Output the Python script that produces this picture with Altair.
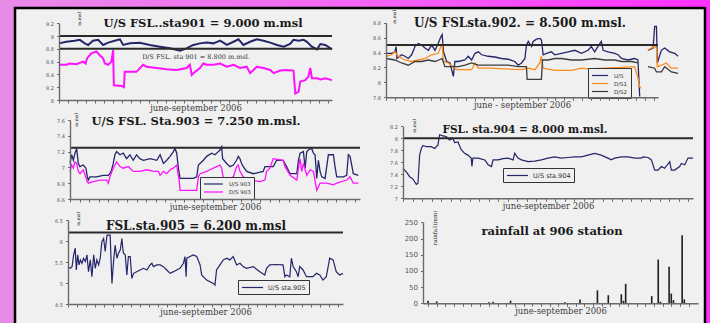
import altair as alt
import pandas as pd

W, H = 710, 323
DAYS = 122                      # 1 June .. 30 September 2006
TICKS = list(range(0, 123, 4))
SERIF = "DejaVu Serif"
SANS = "DejaVu Sans"
NAVY = "#25256a"
MAGENTA = "#ff10ff"
ORANGE = "#ff8c1a"
DARK = "#3c3c3c"
RULE = "#2a2a2a"
AXIS = "#6a6a6a"

# ---------------- sta.901 ----------------
us901_day = [0, 3.3, 7, 9.3, 11.5, 13, 15.2, 17.5, 19.7, 22, 24.9, 27.2, 28.7, 31.7, 36.1, 40.6,
             45.1, 49.6, 54.1, 57, 60, 63, 66, 69, 72, 75, 78, 80.2, 82.4, 85.4, 88.4, 91.4,
             94.4, 97.4, 100.4, 103.3, 104.8, 107.1, 109.3, 110.8, 113, 115.3, 116.8, 119, 122]
us901_lvl = [8.885, 8.91, 8.927, 8.94, 8.885, 8.86, 8.927, 8.94, 8.86, 8.896, 8.927, 8.948, 8.86,
             8.885, 8.896, 8.86, 8.833, 8.807, 8.77, 8.807, 8.86, 8.885, 8.90, 8.885, 8.927, 8.86,
             8.91, 8.948, 8.86, 8.91, 8.948, 8.927, 8.896, 8.86, 8.833, 8.875, 8.94, 8.927, 8.94,
             8.91, 8.833, 8.79, 8.875, 8.86, 8.79]
ds901_day = [0, 3.3, 4.8, 7.8, 10.8, 11.9, 12.5, 14.5, 16.7, 18.2, 19.7, 20.5, 22, 23.4, 24.2,
             24.5, 27.9, 29, 29.4, 34.6, 37.6, 39.1, 43.6, 48.1, 52.6, 57, 58.5, 59.3, 60.8, 63,
             64.5, 66, 69, 72, 75, 78, 80.9, 83.9, 85.4, 86.9, 88.4, 91.4, 94.4, 95.9, 98.9,
             101.8, 104.8, 105.6, 107.1, 107.8, 110.1, 111.5, 112.3, 113, 115.3, 116.8, 119, 122]
ds901_lvl = [8.55, 8.55, 8.57, 8.56, 8.60, 8.57, 8.65, 8.73, 8.76, 8.70, 8.65, 8.57, 8.55, 8.60,
             8.78, 8.23, 8.22, 8.20, 8.44, 8.44, 8.55, 8.52, 8.50, 8.48, 8.47, 8.50, 8.55, 8.39,
             8.44, 8.50, 8.57, 8.55, 8.55, 8.57, 8.52, 8.55, 8.50, 8.52, 8.42, 8.47, 8.52, 8.50,
             8.47, 8.42, 8.46, 8.47, 8.46, 8.10, 8.13, 8.29, 8.31, 8.37, 8.50, 8.34, 8.34, 8.32,
             8.34, 8.31]

# ---------------- sta.902 ----------------
us902_day = [0, 2.5, 4, 4.5, 4.9, 7, 8.5, 10, 11.5, 13, 14.5, 16, 17.5, 19, 20.5, 22, 23.4, 24.6,
             25.2, 25.8, 27.2, 28.7, 30.2, 30.9, 32.4, 35.4, 36.9, 38.4, 39.9, 41.4, 42.9, 45.8,
             48.8, 51.8, 54.8, 57.8, 59.3, 60.8, 62.3, 63, 63.8, 65.3, 66, 67.5, 69, 69.7, 70.5,
             72, 74.2, 75.7, 78.7, 81.7, 84.7, 87.7, 90.6, 92.1, 93.6, 95.9, 96.6, 97.4, 99.6,
             102.6, 104.1, 105.6, 108.6, 111.5, 113, 113.8, 117.5, 119.8, 120.5, 121.3, 121.7,
             123.5, 125, 127.2, 129.5, 131]
us902_lvl = [8.39, 8.39, 8.41, 8.48, 8.32, 8.37, 8.35, 8.32, 8.37, 8.48, 8.52, 8.50, 8.46, 8.43,
             8.50, 8.43, 8.52, 8.61, 8.64, 8.41, 8.28, 8.26, 8.08, 8.28, 8.28, 8.30, 8.35, 8.30,
             8.39, 8.41, 8.37, 8.35, 8.34, 8.32, 8.31, 8.28, 8.23, 8.26, 8.32, 8.50, 8.55, 8.48,
             8.55, 8.58, 8.59, 8.57, 8.37, 8.39, 8.41, 8.37, 8.39, 8.41, 8.43, 8.39, 8.43, 8.48,
             8.41, 8.52, 8.55, 8.43, 8.41, 8.39, 8.37, 8.32, 8.30, 8.32, 8.30, 7.81, 8.43, 8.46,
             8.75, 8.75, 8.26, 8.43, 8.46, 8.41, 8.39, 8.35]
ds1902_day = [0, 2.5, 4, 5.5, 8.5, 11.5, 14.5, 17.5, 20.5, 23.4, 25.2, 25.7, 27.9, 30.2, 31.7,
              38.4, 39.9, 41.4, 45.8, 53.3, 60.8, 63.8, 66.8, 69, 69.7, 70.5, 75.7, 83.2, 87.7,
              90.6, 98.1, 105.6, 111.5, 113, 113.8, 114.5, 117.5, 119, 120.5, 121.3, 121.7,
              123.5, 125.7, 128, 131]
ds1902_lvl = [8.35, 8.37, 8.41, 8.35, 8.30, 8.28, 8.30, 8.32, 8.37, 8.39, 8.52, 8.28, 8.26, 8.21,
              8.17, 8.17, 8.26, 8.19, 8.19, 8.18, 8.17, 8.19, 8.17, 8.26, 8.35, 8.19, 8.16, 8.16,
              8.19, 8.18, 8.19, 8.20, 8.21, 8.06, 7.94, 7.92, 8.43, 8.46, 8.48, 8.46, 8.21, 8.23,
              8.26, 8.19, 8.19]
ds2902_day = [0, 4, 7, 10, 13, 16, 19, 22, 25.2, 26.4, 29.4, 32.4, 35.4, 38.4, 41.4, 45.8, 50.3,
              54.8, 59.3, 63, 63.3, 69.7, 70.2, 72.7, 75.7, 78.7, 83.2, 87.7, 93.6, 98.1, 102.6,
              105.6, 110.1, 113, 117.5, 120.5, 121.3, 123.5, 125, 128, 131]
ds2902_lvl = [8.32, 8.30, 8.26, 8.23, 8.28, 8.28, 8.30, 8.28, 8.32, 8.21, 8.21, 8.21, 8.23, 8.26,
              8.23, 8.23, 8.23, 8.23, 8.21, 8.21, 8.04, 8.04, 8.30, 8.30, 8.32, 8.32, 8.30, 8.30,
              8.32, 8.30, 8.30, 8.28, 8.28, 8.26, 8.21, 8.19, 8.14, 8.14, 8.21, 8.14, 8.12]
GAP_902 = 115   # no readings between day 115 and day 117

# ---------------- sta.903 ----------------
us903_day = [0, 0.7, 1.4, 2.1, 2.8, 3.5, 4.2, 5.6, 6.7, 7.3, 7.7, 8.4, 11.2, 14, 16.1, 16.8, 17.5,
             18.2, 18.9, 19.6, 21, 22.4, 23.8, 25.2, 26.6, 28, 29.4, 30.9, 33.7, 36.5, 37.9, 39.3,
             40.7, 42.1, 43.5, 44.2, 44.9, 45.6, 46.3, 49.1, 51.9, 53.3, 54, 54.7, 56.1, 57.5,
             59.6, 61, 62.4, 63.1, 63.8, 64.2, 65.9, 67.3, 68.7, 70.1, 70.8, 71.5, 72.2, 72.9,
             74.3, 77.1, 81.3, 82, 85.5, 86.9, 89.7, 91.1, 92.6, 95.4, 96.1, 96.8, 98.2, 98.9,
             99.6, 100.3, 101.7, 102.4, 103.1, 103.8, 104.5, 105.2, 105.9, 107.3, 108.7, 110.8,
             111.5, 112.2, 115, 116.4, 117.1, 117.8, 119.2, 121.3]
us903_lvl = [7.05, 7.16, 7.09, 7.18, 7.24, 7.05, 7.01, 7.03, 6.99, 6.88, 6.84, 6.88, 6.88, 6.90,
             6.90, 6.92, 6.97, 7.05, 7.16, 7.20, 7.16, 7.18, 7.11, 7.16, 7.09, 7.16, 7.11, 7.09,
             7.11, 7.09, 7.16, 7.05, 7.09, 7.14, 7.20, 7.24, 7.18, 6.99, 6.86, 6.86, 6.86, 6.88,
             7.03, 7.05, 7.09, 7.14, 7.18, 7.16, 7.20, 7.22, 7.26, 7.11, 7.05, 7.01, 7.03, 7.09,
             7.14, 7.11, 7.05, 7.01, 6.95, 6.92, 6.95, 7.01, 7.01, 7.09, 7.09, 7.01, 6.92, 6.92,
             7.09, 7.18, 7.20, 6.99, 7.20, 7.22, 7.24, 7.18, 7.16, 6.86, 7.09, 6.95, 6.88, 6.86,
             7.16, 7.16, 7.01, 6.88, 6.88, 6.90, 7.16, 7.14, 6.92, 6.90]
ds903_day = [0, 0.7, 1.4, 2.1, 2.8, 3.5, 4.2, 5.6, 7.3, 7.7, 9.8, 12.6, 15.4, 16.1, 16.8, 18.2,
             19.6, 21, 22.4, 24.5, 26.6, 29.4, 32.3, 35.1, 37.2, 37.9, 39.3, 40.7, 42.1, 43.5,
             44.9, 46, 46.3, 53.3, 54, 54.7, 57.5, 58.9, 60.3, 61.7, 63.1, 63.8, 64.5, 67.3, 68.7,
             70.1, 70.8, 71.5, 72.9, 75.7, 79.9, 82, 82.7, 84.1, 85.5, 89.7, 90.4, 92.6, 95.4,
             96.1, 96.8, 97.5, 98.2, 99.6, 101, 102.4, 103.8, 105.2, 108, 110.8, 112.2, 116.4,
             117.8, 119.2, 121.3]
ds903_lvl = [6.95, 7.03, 6.99, 7.07, 7.05, 6.95, 6.92, 6.97, 6.82, 6.80, 6.82, 6.84, 6.84, 6.80,
             6.88, 6.99, 7.07, 7.01, 6.99, 7.01, 6.95, 6.95, 6.97, 6.95, 6.95, 6.90, 6.95, 6.92,
             6.97, 6.99, 7.03, 6.82, 6.71, 6.71, 6.88, 6.92, 6.95, 6.97, 6.99, 7.01, 7.03, 6.99,
             6.86, 6.86, 6.88, 7.01, 7.03, 6.95, 6.88, 6.84, 6.82, 6.84, 6.95, 6.99, 7.11, 7.09,
             7.01, 6.90, 6.84, 6.99, 7.11, 6.95, 7.05, 6.90, 6.97, 6.95, 6.71, 6.80, 6.80, 6.78,
             6.80, 6.84, 6.88, 6.80, 6.80]

# ---------------- sta.904 ----------------
us904_day = [0, 1.4, 2.8, 4.2, 5.6, 6.3, 7, 7.7, 8.4, 9.8, 11.9, 13.3, 14.7, 15.4, 16.8, 18.2,
             19.6, 21, 21.7, 23.1, 24.5, 25.9, 27.3, 28.7, 29, 29.4, 31.6, 34.4, 35.8, 37.2, 37.9,
             40, 42.1, 44.2, 46.3, 47, 48.4, 49.8, 52.6, 55.4, 58.2, 61, 63.8, 66.6, 69.4, 72.2,
             75, 77.8, 80.6, 83.4, 86.2, 87.6, 89, 91.9, 94.7, 97.5, 100.3, 101, 103.1, 104.5,
             105.9, 107.3, 108.7, 110.1, 112.2, 112.9, 114.3, 116.4, 117.1, 118.5, 119.9, 122]
us904_lvl = [7.50, 7.44, 7.36, 7.32, 7.23, 7.25, 7.72, 7.83, 7.88, 7.86, 7.86, 7.83, 7.89, 8.06,
             8.04, 8.03, 7.97, 8.00, 7.93, 7.94, 7.81, 7.75, 7.72, 7.67, 7.53, 7.67, 7.67, 7.64,
             7.56, 7.53, 7.64, 7.64, 7.66, 7.67, 7.64, 7.75, 7.67, 7.64, 7.61, 7.62, 7.64, 7.67,
             7.69, 7.67, 7.68, 7.69, 7.69, 7.72, 7.75, 7.72, 7.67, 7.64, 7.67, 7.69, 7.69, 7.67,
             7.67, 7.69, 7.68, 7.64, 7.47, 7.47, 7.53, 7.50, 7.61, 7.47, 7.47, 7.53, 7.58, 7.56,
             7.67, 7.67]

# ---------------- sta.905 ----------------
us905_day = [0, 1, 1.8, 2.5, 3.2, 3.7, 4.3, 4.9, 5.5, 6.2, 6.9, 7.7, 8.4, 9.1, 9.9, 10.6, 11.4,
             12.1, 12.8, 13.6, 14.3, 15, 15.8, 16.5, 17.3, 18.7, 19.5, 20.2, 20.9, 21.7, 22.4,
             23.2, 23.9, 24.3, 24.6, 25.4, 26.1, 26.8, 27.6, 28.3, 29.1, 30.5, 32, 33.5, 35, 36.4,
             37.2, 37.9, 39.4, 40.9, 42.3, 43.8, 45.3, 46.8, 48.2, 49.7, 51.2, 51.9, 52.4, 52.7,
             54.1, 55.6, 57.1, 58.3, 58.6, 59.3, 61.5, 64.5, 65.2, 65.9, 67.4, 68.9, 70.4, 71.8,
             73.3, 74.8, 76.3, 77.7, 79.2, 82.2, 85.1, 87.3, 88.1, 89.5, 92.5, 95.4, 96.2, 96.9,
             98.4, 99.1, 99.9, 101.3, 102.1, 102.8, 104.3, 105.8, 107.2, 108.7, 110.2, 111.7,
             113.1, 114.6, 116.1, 117.6, 119, 120.5, 122]
us905_lvl = [5.39, 5.35, 5.39, 5.67, 5.83, 5.31, 5.67, 5.43, 5.55, 5.47, 5.59, 5.51, 5.67, 5.27,
             5.55, 5.15, 5.67, 5.35, 5.55, 5.43, 5.59, 5.98, 6.06, 5.75, 6.14, 6.14, 4.99, 5.51,
             5.90, 5.59, 5.71, 5.79, 6.06, 5.83, 5.71, 5.67, 5.19, 5.63, 5.63, 5.11, 5.23, 5.27,
             5.31, 5.35, 5.31, 5.43, 5.47, 5.39, 5.43, 5.43, 5.39, 5.31, 5.23, 5.27, 5.31, 5.35,
             5.47, 5.63, 5.15, 5.59, 5.63, 5.67, 5.63, 5.47, 5.43, 5.19, 5.07, 4.99, 4.95, 5.31,
             5.43, 5.55, 5.59, 5.55, 5.63, 5.43, 5.47, 5.39, 5.35, 5.39, 5.27, 5.19, 5.35, 5.43,
             5.44, 5.43, 5.15, 5.19, 5.15, 5.59, 5.39, 5.27, 5.15, 5.39, 5.31, 5.15, 5.15, 5.15,
             5.23, 5.19, 5.07, 5.15, 5.59, 5.55, 5.27, 5.19, 5.23]

# ---------------- rainfall at 906 ----------------
rain_day = [0, 4, 28, 30, 38, 63, 70, 78, 83, 89, 90, 91, 103, 106, 107, 111, 112, 113, 117, 118]
rain_mm = [8, 6, 3, 5, 8, 3, 12, 40, 25, 28, 8, 60, 22, 135, 5, 113, 30, 10, 210, 12]

ONE = pd.DataFrame({"k": [0]})


def series_frame(rows, gap=None):
    frames = []
    for name, days, levels in rows:
        df = pd.DataFrame({"day": days, "level": levels})
        df["series"] = name
        df["i"] = range(len(df))
        df["part"] = 0 if gap is None else (df["day"] > gap).astype(int)
        frames.append(df)
    return pd.concat(frames, ignore_index=True)


def x_axis(bottom, title):
    return alt.Axis(orient="bottom", offset=bottom - H, values=TICKS, labels=False,
                    grid=False, domainColor=AXIS, domainWidth=1.6, tickColor=AXIS,
                    tickSize=3, tickWidth=1, title=title, titleFont=SERIF, titleFontSize=8.5,
                    titleFontWeight="normal", titleColor="#404040", titlePadding=0, zindex=1)


def y_axis(left, ticks, size=5):
    return alt.Axis(orient="left", offset=-left, values=ticks, format="~r", grid=False,
                    domainColor=AXIS, domainWidth=1.4, tickColor=AXIS, tickSize=2.5,
                    labelFont=SANS, labelFontSize=size, labelColor="#555", labelPadding=3,
                    title=None, zindex=1)


def legend_at(x, y, size, reach, offset, font):
    # A flat stroke symbol: the row height follows `size`, while `reach` stretches
    # the drawn line to the right of the symbol slot.
    return alt.Legend(orient="none", legendX=x, legendY=y, title=None,
                      symbolType=f"M-1,0H{reach}", symbolSize=size, symbolStrokeWidth=1.2,
                      labelFont=SANS, labelFontSize=font, labelColor="#333",
                      strokeColor="#333", fillColor="#f0f0f0", padding=3, rowPadding=0,
                      labelOffset=offset)


def level_panel(df, names, colors, xr, yr, ydom, yticks, fsl, xtitle, legend, width=1.3):
    """Series lines plus the full-supply-level rules; every layer carries the same
    explicit scales, so the panel needs no shared layer of its own."""
    xs = alt.Scale(domain=[0, DAYS], range=xr, nice=False, zero=False)
    ys = alt.Scale(domain=ydom, range=yr, nice=False, zero=False)
    lines = alt.Chart(df).mark_line(strokeWidth=width).encode(
        x=alt.X("day:Q", scale=xs, axis=x_axis(yr[0], xtitle)),
        y=alt.Y("level:Q", scale=ys, axis=y_axis(xr[0], yticks)),
        color=alt.Color("series:N", scale=alt.Scale(domain=names, range=colors), legend=legend),
        detail="part:N",
        order="i:Q",
    )
    rules = [
        alt.Chart(ONE).mark_rule(color=RULE, strokeWidth=2).encode(
            x=alt.XDatum(0, scale=xs, axis=None), x2=alt.X2Datum(DAYS),
            y=alt.YDatum(v, scale=ys, axis=None))
        for v in fsl
    ]
    return [lines, *rules]


def label(txt, x, y, size, bold=True, angle=0, color="#1a1a1a", font=SERIF):
    return alt.Chart(ONE).mark_text(font=font, fontSize=size,
                                    fontWeight="bold" if bold else "normal", angle=angle,
                                    color=color, align="center", baseline="middle").encode(
        x=alt.value(x), y=alt.value(y), text=alt.value(txt))


# ---- page frame ----
frame_bg = alt.Chart(ONE).mark_rect(
    fill=alt.LinearGradient(gradient="linear", x1=0, x2=1, y1=0, y2=0,
                            stops=[alt.GradientStop(color="#e98be9", offset=0),
                                   alt.GradientStop(color="#f466f4", offset=0.5),
                                   alt.GradientStop(color="#ff30ff", offset=1)])
).encode(x=alt.value(0), x2=alt.value(W), y=alt.value(0), y2=alt.value(H))
frame_box = alt.Chart(ONE).mark_rect(fill="#f0f0f0", stroke="#000", strokeWidth=2.5).encode(
    x=alt.value(15), x2=alt.value(705), y=alt.value(8), y2=alt.value(H + 20))

# ---- panels ----
p1 = level_panel(
    series_frame([("U/S 901", us901_day, us901_lvl), ("D/S 901", ds901_day, ds901_lvl)]),
    ["U/S 901", "D/S 901"], [NAVY, MAGENTA], [59, 332], [100, 23.2], [8, 9.2],
    [8, 8.2, 8.4, 8.6, 8.8, 9, 9.2], [9.0, 8.8], "june-september 2006", None, width=2)

p2 = level_panel(
    series_frame([("U/S", us902_day, us902_lvl), ("D/S1", ds1902_day, ds1902_lvl),
                  ("D/S2", ds2902_day, ds2902_lvl)], gap=GAP_902),
    ["U/S", "D/S1", "D/S2"], [NAVY, ORANGE, DARK], [386, 658], [97.3, 22.7], [7.8, 8.8],
    [7.8, 8, 8.2, 8.4, 8.6, 8.8], [8.5], "june - september 2006",
    legend_at(588, 68, 49, 3.6, 14, 5.5), width=1.3)

p3 = level_panel(
    series_frame([("U/S 903", us903_day, us903_lvl), ("D/S 903", ds903_day, ds903_lvl)]),
    ["U/S 903", "D/S 903"], [NAVY, MAGENTA], [70, 360], [199, 120], [6.6, 7.6],
    [6.6, 6.8, 7, 7.2, 7.4, 7.6], [7.25], "june-september 2006",
    legend_at(200, 177, 36, 5.3, 18, 5.5), width=1.3)

p4 = level_panel(
    series_frame([("U/S sta.904", us904_day, us904_lvl)]),
    ["U/S sta.904"], [NAVY], [403, 693], [198.3, 126.3], [7, 8.2],
    [7, 7.2, 7.4, 7.6, 7.8, 8, 8.2], [8.0], "june-september 2006",
    legend_at(503, 168, 49, 5, 18, 6.5), width=1.2)

p5 = level_panel(
    series_frame([("U/S sta.905", us905_day, us905_lvl)]),
    ["U/S sta.905"], [NAVY], [68, 343], [304, 220], [4.5, 6.5],
    [4.5, 5, 5.5, 6, 6.5], [6.2], "june-september 2006",
    legend_at(238, 280, 49, 5, 18, 6.5), width=1.2)

rain_df = pd.DataFrame({"day": rain_day, "mm": rain_mm})
p6 = alt.Chart(rain_df).mark_bar(size=1.6, color="#1e1e1e").encode(
    x=alt.X("day:Q", scale=alt.Scale(domain=[0, DAYS], range=[423, 698], nice=False, zero=False),
            axis=x_axis(303.3, "june-september 2006")),
    y=alt.Y("mm:Q", scale=alt.Scale(domain=[0, 250], range=[303.3, 222.3], nice=False),
            axis=y_axis(423, [0, 50, 100, 150, 200, 250], size=7)),
)

texts = [
    label("U/S FSL..sta901 = 9.000 m.msl", 203, 24, 11.5),
    label("D/S FSL. sta 901 = 8.800 m.msl.", 196, 57, 6.5, bold=False, color="#333"),
    label("U/S FSLsta.902. = 8.500 m.msl.", 520, 23, 12),
    label("U/S FSL. Sta.903 = 7.250 m.msl.", 196, 122, 11.5),
    label("FSL. sta.904 = 8.000 m.msl.", 525, 130, 10.5),
    label("FSL.sta.905 = 6.200 m.msl", 196, 226, 12),
    label("rainfall at 906 station", 552, 232, 11.5),
    label("m.msl", 80, 19, 4.5, bold=False, angle=270),
    label("m.msl", 395, 17, 4.5, bold=False, angle=270),
    label("m.msl", 77, 120, 4.5, bold=False, angle=270),
    label("m.msl", 415, 126, 4.5, bold=False, angle=270),
    label("m.msl", 79, 219, 4.5, bold=False, angle=270),
    label("rainfall(mm)", 435, 228, 5.5, bold=False, angle=270),
]

chart = alt.layer(frame_bg, frame_box, *p1, *p2, *p3, *p4, *p5, p6, *texts).resolve_scale(
    x="independent", y="independent", color="independent"
).properties(
    width=W, height=H, padding=0, autosize=alt.AutoSizeParams(type="none")
).configure_view(strokeWidth=0).configure(background="#f0f0f0")

chart.save("out.html", embed_options={"renderer": "svg", "actions": False})
